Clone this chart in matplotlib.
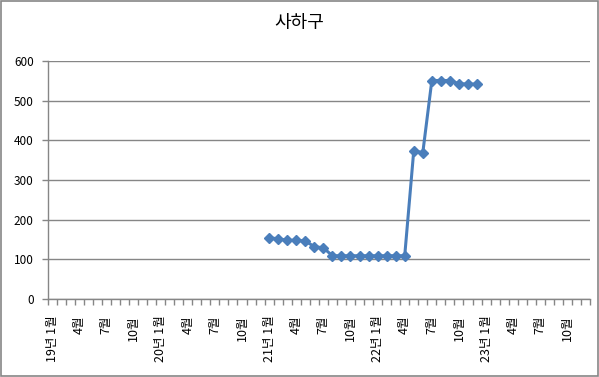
import numpy as np
import matplotlib.pyplot as plt
from matplotlib.patches import Rectangle

plt.rcParams['font.family'] = ['Noto Sans CJK KR', 'DejaVu Sans']

# 월별 카테고리 (19년 1월 ~ 23년 12월)
years = [19, 20, 21, 22, 23]
months = list(range(1, 13))
categories = [f'{y}년 {m}월' for y in years for m in months]

# 데이터: 21년 1월 ~ 22년 12월
start_label = '21년 1월'
values = [154, 152, 148, 148, 146, 132, 129, 109, 109, 109, 109, 109,
          109, 109, 109, 109, 374, 369, 551, 551, 551, 543, 542, 542]

gray = '#868686'
blue = '#4a7ebb'

fig = plt.figure(figsize=(5.99, 3.77), dpi=100)
ax = fig.add_axes([0.0796, 0.207, 0.9054, 0.631])

start = categories.index(start_label)
xs = np.arange(start, start + len(values))
ax.plot(xs, values, color=blue, linewidth=2.2, marker='D', markersize=5,
        markeredgecolor=blue, markerfacecolor=blue)

ax.set_xlim(-0.5, len(categories) - 0.5)
ax.set_ylim(0, 600)
ax.set_yticks(range(0, 601, 100))
ax.yaxis.grid(True, color=gray, linewidth=1)
ax.set_axisbelow(True)

# x축: 라벨은 3개월마다, 눈금은 매월 경계
label_pos = list(range(0, len(categories), 3))
labels = []
for i in label_pos:
    c = categories[i]
    labels.append(c if c.endswith(' 1월') else c.split(' ')[1])
ax.set_xticks(label_pos)
ax.set_xticklabels(labels, rotation=90, fontsize=9)
ax.set_xticks(np.arange(-0.5, len(categories), 1), minor=True)
ax.tick_params(axis='x', which='major', length=0, pad=12)
ax.tick_params(axis='x', which='minor', length=4, color=gray, width=1)
ax.tick_params(axis='y', length=4, color=gray, width=1, labelsize=8.5, pad=6)

for s in ['top', 'right']:
    ax.spines[s].set_visible(False)
for s in ['left', 'bottom']:
    ax.spines[s].set_color(gray)
    ax.spines[s].set_linewidth(1)

fig.text(0.5, 0.94, '사하구', ha='center', va='center', fontsize=13)

# 차트 테두리
fig.patches.append(Rectangle((0.002, 0.003), 0.996, 0.994, transform=fig.transFigure,
                             fill=False, edgecolor=gray, linewidth=1.2))

fig.savefig('out.png', dpi=100)
